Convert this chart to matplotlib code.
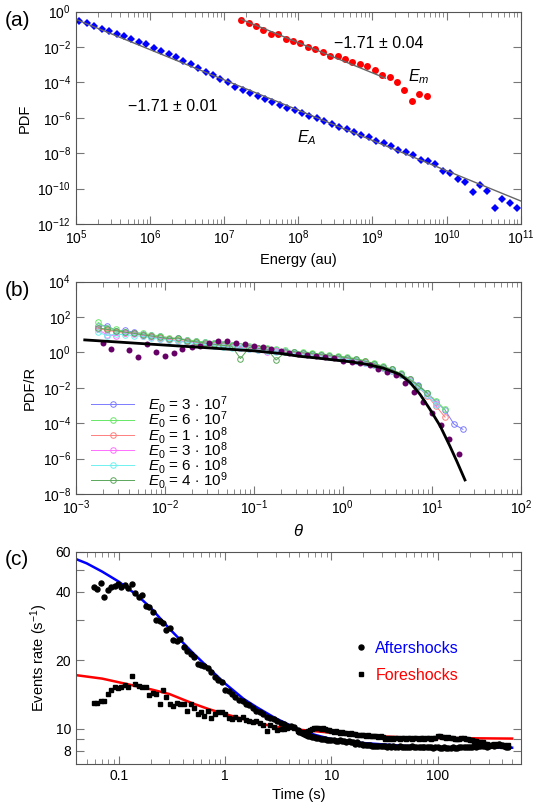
import numpy as np
import matplotlib
matplotlib.use('Agg')
import matplotlib.pyplot as plt
from matplotlib.ticker import FixedLocator, FixedFormatter, NullLocator, LogLocator
from matplotlib.lines import Line2D

# ---------------- panel (a): energy distributions ----------------
energy_A = [1.12e5, 1.41e5, 1.78e5, 2.24e5, 2.82e5, 3.55e5, 4.47e5, 5.62e5, 7.08e5, 8.91e5,
            1.12e6, 1.41e6, 1.78e6, 2.24e6, 2.82e6, 3.55e6, 4.47e6, 5.62e6, 7.08e6, 8.91e6,
            1.12e7, 1.41e7, 1.78e7, 2.24e7, 2.82e7, 3.55e7, 4.47e7, 5.62e7, 7.08e7, 8.91e7,
            1.12e8, 1.41e8, 1.78e8, 2.24e8, 2.82e8, 3.55e8, 4.47e8, 5.62e8, 7.08e8, 8.91e8,
            1.12e9, 1.41e9, 1.78e9, 2.24e9, 2.82e9, 3.55e9, 4.47e9, 5.62e9, 7.08e9, 8.91e9,
            1.12e10, 1.41e10, 1.78e10, 2.24e10, 2.82e10, 3.55e10, 4.47e10, 5.62e10, 7.08e10, 8.91e10]
pdf_A = [0.31, 0.219, 0.155, 0.110, 0.0774, 0.0547, 0.0404, 0.0286, 0.0202, 0.01426,
         9.24e-3, 6.26e-3, 3.88e-3, 2.63e-3, 1.63e-3, 1.06e-3, 6.57e-4, 4.07e-4, 2.53e-4, 1.57e-4,
         1.02e-4, 5.79e-5, 3.92e-5, 2.54e-5, 1.65e-5, 1.11e-5, 7.55e-6, 5.11e-6, 3.61e-6, 2.67e-6,
         1.80e-6, 1.27e-6, 9.41e-7, 6.95e-7, 4.70e-7, 2.92e-7, 2.25e-7, 1.66e-7, 1.08e-7, 7.94e-8,
         5.15e-8, 3.64e-8, 2.58e-8, 1.60e-8, 1.23e-8, 7.98e-9, 3.99e-9, 3.82e-9, 2.48e-9, 1.04e-9,
         8.02e-10, 3.37e-10, 2.48e-10, 6.77e-11, 1.61e-10, 7.06e-11, 7.74e-12, 2.61e-11, 1.48e-11, 7.74e-12]
energy_m = [1.70e7, 2.14e7, 2.69e7, 3.39e7, 4.27e7, 5.37e7, 6.76e7, 8.51e7, 1.07e8, 1.35e8,
            1.70e8, 2.14e8, 2.69e8, 3.39e8, 4.27e8, 5.37e8, 6.76e8, 8.51e8, 1.07e9, 1.35e9,
            1.70e9, 2.14e9, 2.69e9, 3.39e9, 4.27e9, 5.37e9]
pdf_m = [0.353, 0.229, 0.162, 0.0962, 0.0571, 0.0524, 0.0298, 0.0220, 0.0170, 0.0101,
         8.13e-3, 5.27e-3, 3.13e-3, 3.27e-3, 2.03e-3, 1.43e-3, 1.06e-3, 8.15e-4, 5.28e-4, 2.76e-4,
         1.95e-4, 1.06e-4, 3.60e-5, 9.37e-6, 2.14e-5, 1.72e-5]
fit_A_x = [1e5, 1e11]
fit_A_y = [0.37, 2.0e-11]
fit_m_x = [1.7e7, 1.5e9]
fit_m_y = [0.37, 1.74e-4]

# ---------------- panel (b): scaled distributions ----------------
theta = [1.78e-3, 2.24e-3, 2.82e-3, 3.55e-3, 4.47e-3, 5.62e-3, 7.08e-3, 8.91e-3, 1.12e-2, 1.41e-2,
         1.78e-2, 2.24e-2, 2.82e-2, 3.55e-2, 4.47e-2, 5.62e-2, 7.08e-2, 8.91e-2, 0.112, 0.141,
         0.178, 0.224, 0.282, 0.355, 0.447, 0.562, 0.708, 0.891, 1.12, 1.41,
         1.78, 2.24, 2.82, 3.55, 4.47, 5.62, 7.08, 8.91, 11.2, 14.1, 17.8, 22.4]
e0_labels = [r'$E_{\mathit{0}}$ = 3 $\cdot$ 10$^{7}$', r'$E_{\mathit{0}}$ = 6 $\cdot$ 10$^{7}$',
             r'$E_{\mathit{0}}$ = 1 $\cdot$ 10$^{8}$', r'$E_{\mathit{0}}$ = 3 $\cdot$ 10$^{8}$',
             r'$E_{\mathit{0}}$ = 6 $\cdot$ 10$^{8}$', r'$E_{\mathit{0}}$ = 4 $\cdot$ 10$^{9}$']
e0_colors = ['#7b7bff', '#66e866', '#ff7f7f', '#ff6eff', '#6ff0f0', '#5aa65a']
pdf_3e7 = [30, 33, 17, 18, 14, 11.5, 9.5, 8.0, 6.0, 6.5, 5.0, 4.4, 3.8, 3.3, 3.0, 2.6, 2.2, 2.0, 1.8, 1.6,
           1.4, 1.25, 1.1, 0.95, 0.85, 0.75, 0.66, 0.57, 0.48, 0.39, 0.30, 0.22, 0.16, 0.11, 0.062,
           0.032, 0.015, 5.0e-3, 1.6e-3, 5.5e-4, 8.7e-5, 4.5e-5]
pdf_6e7 = [50, 24, 20, 15, 13, 12, 10, 8.5, 6.8, 6.0, 5.2, 4.5, 3.7, 3.2, 2.9, 2.5, 2.3, 2.4, 1.9, 1.7,
           1.5, 1.3, 1.0, 1.1, 0.95, 0.8, 0.7, 0.62, 0.55, 0.45, 0.34, 0.24, 0.17, 0.11, 0.065,
           0.031, 0.013, 5.0e-3, 1.8e-3, 6.0e-4]
pdf_1e8 = [22, 18, 15, 13, 12, 9.5, 8.0, 6.5, 5.6, 4.8, 4.2, 3.7, 3.1, 2.8, 2.4, 2.1, 1.9, 1.7, 1.5, 1.35,
           1.2, 1.05, 0.95, 0.85, 0.75, 0.66, 0.58, 0.5, 0.43, 0.35, 0.27, 0.2, 0.14, 0.093, 0.05,
           0.024, 0.011, 3.5e-3, 9.0e-4, 2.2e-4]
pdf_3e8 = [20, 9.8, 8.9, 12, 11, 9.0, 7.5, 6.0, 5.2, 4.5, 3.9, 3.4, 2.9, 2.6, 2.3, 2.0, 1.8, 1.6, 1.45, 1.0,
           1.15, 1.05, 0.92, 0.8, 0.72, 0.63, 0.56, 0.49, 0.42, 0.34, 0.26, 0.19, 0.14, 0.09, 0.05,
           0.026, 0.011, 4.0e-3, 1.2e-3]
pdf_6e8 = [14, 9.0, 11, 10, 9.0, 8.0, 6.5, 5.5, 4.8, 4.2, 3.6, 3.2, 2.8, 2.4, 2.1, 1.9, 1.7, 1.5, 1.35, 1.2,
           1.1, 1.0, 0.9, 0.8, 0.71, 0.63, 0.55, 0.48, 0.41, 0.33, 0.26, 0.19, 0.13, 0.088, 0.05,
           0.025, 0.011, 3.8e-3, 1.1e-3]
pdf_4e9 = [25, 20, 17, 14, 12, 10, 8.5, 7.0, 6.0, 6.5, 4.5, 4.0, 3.4, 2.9, 2.5, 2.3, 0.45, 1.9, 1.7, 1.5,
           0.37, 1.0, 1.1, 0.95, 0.85, 0.75, 0.65, 0.58, 0.5, 0.42, 0.32, 0.23, 0.16, 0.11, 0.06,
           0.03, 0.013, 5.0e-3]
theta_p = [2.0e-3, 2.5e-3, 3.98e-3, 5.01e-3, 6.31e-3, 7.94e-3, 0.01, 0.0126, 0.0158, 0.02,
           0.0251, 0.0316, 0.0398, 0.0501, 0.0631, 0.0794, 0.1, 0.126, 0.158, 0.2,
           0.251, 0.316, 0.398, 0.501, 0.631, 0.794, 1.0, 1.26, 1.58, 2.0,
           2.51, 3.16, 3.98, 5.01, 6.31, 7.94, 10, 12.6, 15.8, 20.0]
pdf_p = [3.28, 1.57, 1.38, 0.53, 3.0, 1.02, 0.63, 0.89, 1.50, 1.95,
         2.42, 3.58, 4.64, 4.26, 3.58, 2.88, 2.32, 1.95, 1.50, 1.21,
         0.975, 0.82, 0.72, 0.63, 0.58, 0.47, 0.344, 0.302, 0.243, 0.196,
         0.111, 0.082, 0.053, 0.018, 5.6e-3, 1.66e-3, 4.0e-4, 7.9e-5, 1.23e-5, 1.76e-6]
fit_theta = [1.26e-3, 3.16e-3, 0.01, 0.0316, 0.1, 0.2, 0.33, 0.5, 0.78, 1.2,
             1.85, 2.85, 4.4, 5.7, 7.4, 9.5, 12.4, 16.0, 19.1, 23.6]
fit_pdf = [5.1, 3.8, 2.6, 1.8, 1.23, 0.87, 0.60, 0.49, 0.38, 0.30,
           0.214, 0.13, 0.056, 0.020, 4.2e-3, 6.3e-4, 7.1e-5, 5.0e-6, 7.1e-7, 6.2e-8]

# ---------------- panel (c): event rates ----------------
time_s = [0.0583, 0.0629, 0.0678, 0.0730, 0.0787, 0.0848, 0.0914, 0.0985, 0.106, 0.114,
          0.123, 0.133, 0.143, 0.154, 0.166, 0.179, 0.193, 0.208, 0.224, 0.242,
          0.261, 0.281, 0.303, 0.326, 0.352, 0.379, 0.408, 0.440, 0.474, 0.511,
          0.551, 0.593, 0.640, 0.689, 0.743, 0.801, 0.863, 0.930, 1.00, 1.08,
          1.16, 1.25, 1.35, 1.46, 1.57, 1.69, 1.82, 1.97, 2.12, 2.28,
          2.46, 2.65, 2.86, 3.08, 3.32, 3.58, 3.85, 4.15, 4.48, 4.83,
          5.0, 5.25, 5.5, 5.75, 6.0, 6.3, 6.6, 6.9, 7.2, 7.5,
          7.9, 8.3, 8.7, 9.1, 9.5, 10, 10.5, 11, 11.5, 12,
          12.6, 13.2, 13.8, 14.5, 15.2, 16, 16.7, 17.5, 18.3, 19.2,
          20, 21, 22, 23, 24, 25, 26.5, 27.7, 29, 30.5,
          32, 33.5, 35, 36.5, 38, 40, 42, 44, 46, 48,
          50, 52.5, 55, 57.5, 60, 63, 66, 69, 72, 75,
          79, 83, 87, 91, 95, 100, 105, 110, 115, 120,
          126, 132, 138, 145, 152, 160, 167, 175, 183, 192,
          200, 210, 220, 230, 240, 250, 265, 277, 290, 305,
          320, 335, 350, 365, 380, 400, 420, 440, 460]
aftershocks = [42.1, 41.3, 43.5, 38.0, 40.8, 42.1, 42.4, 43.3, 42.1, 42.9,
               41.6, 43.1, 39.3, 38.0, 38.5, 34.7, 34.4, 32.5, 30.0, 29.8,
               29.0, 27.1, 27.6, 24.5, 24.2, 24.7, 22.9, 22.0, 21.2, 20.6,
               19.3, 19.0, 18.9, 18.4, 17.8, 16.9, 16.3, 16.1, 14.8, 14.7,
               14.2, 13.8, 13.4, 13.2, 12.9, 12.7, 12.3, 12.0, 11.8, 11.6,
               11.3, 11.1, 11.0, 10.8, 10.6, 10.5, 10.3, 10.3, 10.2, 9.9,
               9.7, 9.6, 9.5, 9.4, 9.3, 9.3, 9.2, 9.2, 9.1, 9.1,
               9.0, 9.0, 9.0, 8.9, 8.9, 8.9, 8.9, 8.8, 8.8, 8.9,
               8.8, 8.8, 8.7, 8.8, 8.7, 8.7, 8.6, 8.7, 8.6, 8.6,
               8.5, 8.5, 8.5, 8.5, 8.4, 8.4, 8.4, 8.4, 8.4, 8.4,
               8.4, 8.3, 8.4, 8.3, 8.4, 8.3, 8.3, 8.4, 8.3, 8.3,
               8.3, 8.3, 8.3, 8.4, 8.3, 8.3, 8.3, 8.3, 8.3, 8.3,
               8.3, 8.3, 8.3, 8.2, 8.3, 8.3, 8.2, 8.2, 8.3, 8.2,
               8.2, 8.2, 8.3, 8.2, 8.2, 8.3, 8.3, 8.3, 8.3, 8.3,
               8.3, 8.3, 8.4, 8.3, 8.4, 8.4, 8.4, 8.4, 8.3, 8.4,
               8.5, 8.4, 8.5, 8.5, 8.6, 8.5, 8.4, 8.3, 8.3]
foreshocks = [13.0, 13.0, 13.2, 13.3, 14.2, 14.8, 15.3, 15.1, 15.3, 15.6,
              15.3, 17.1, 15.7, 15.4, 15.3, 15.3, 14.0, 14.4, 14.2, 12.8,
              14.8, 13.8, 12.8, 12.6, 13.0, 12.8, 12.9, 12.0, 12.8, 12.3,
              11.6, 11.8, 11.4, 12.0, 11.2, 11.6, 11.8, 11.9, 11.6, 11.2,
              11.0, 11.3, 11.0, 11.3, 10.9, 10.8, 10.7, 10.8, 10.6, 10.4,
              9.8, 10.4, 10.2, 9.9, 10.0, 10.0, 10.1, 10.2, 10.1, 9.8,
              9.8, 9.7, 9.6, 9.7, 9.8, 9.9, 10.0, 10.1, 10.1, 10.1,
              10.0, 10.1, 10.0, 9.9, 9.9, 9.8, 9.7, 9.8, 9.7, 9.6,
              9.7, 9.6, 9.6, 9.5, 9.6, 9.5, 9.5, 9.4, 9.4, 9.4,
              9.4, 9.3, 9.4, 9.3, 9.3, 9.3, 9.3, 9.2, 9.3, 9.2,
              9.0, 9.1, 9.0, 9.1, 9.0, 9.1, 9.1, 9.0, 9.1, 9.1,
              9.0, 9.1, 9.1, 9.0, 9.1, 9.1, 9.0, 9.1, 9.1, 9.0,
              9.1, 9.1, 9.0, 9.1, 9.1, 9.3, 9.3, 9.2, 9.2, 9.1,
              9.2, 9.1, 9.1, 9.0, 9.0, 9.0, 9.1, 9.1, 9.0, 9.0,
              8.9, 8.9, 8.8, 8.8, 8.7, 8.7, 8.7, 8.6, 8.6, 8.5,
              8.5, 8.6, 8.5, 8.6, 8.5, 8.4, 8.5, 8.4, 8.5]
fit_after_t = [0.0395, 0.05, 0.07, 0.1, 0.15, 0.2, 0.3, 0.5, 0.7, 1, 1.5, 2, 3, 5, 7, 10, 20, 50, 100, 200, 500]
fit_after = [55.7, 53.3, 49.0, 44.3, 38.5, 34.0, 27.5, 21.5, 18.5, 15.8, 13.5, 12.4, 11.1, 9.9, 9.4, 9.0,
             8.65, 8.4, 8.3, 8.28, 8.25]
fit_fore_t = [0.0395, 0.07, 0.1, 0.2, 0.3, 0.5, 0.7, 1, 2, 3, 5, 10, 20, 30, 50, 100, 200, 500]
fit_fore = [17.2, 16.6, 16.0, 14.9, 14.2, 12.9, 12.2, 11.6, 10.6, 10.2, 9.9, 9.6, 9.35, 9.25, 9.15, 9.1,
            9.08, 9.05]

plt.rcParams['font.family'] = ['Liberation Sans', 'DejaVu Sans']
plt.rcParams['mathtext.fontset'] = 'custom'
plt.rcParams['mathtext.rm'] = 'Liberation Sans'
plt.rcParams['mathtext.it'] = 'Liberation Sans:italic'
plt.rcParams['mathtext.bf'] = 'Liberation Sans:bold'


def style(ax):
    for s in ax.spines.values():
        s.set_color('#555555')
        s.set_linewidth(0.8)
    ax.tick_params(which='both', direction='in', top=True, right=True, color='#777777', labelsize=10)
    ax.tick_params(which='major', length=6, width=0.8)
    ax.tick_params(which='minor', length=3.5, width=0.6)


fig = plt.figure(figsize=(5.4, 8.11), dpi=100)
L, W, H = 0.1404, 0.824, 0.2618

# (a)
ax1 = fig.add_axes([L, 0.7238, W, H])
ax1.loglog(energy_A, pdf_A, 'D', color='#0000ff', ms=4.3, mew=0, zorder=2)
ax1.loglog(energy_m, pdf_m, 'o', color='#ff0000', ms=5.0, mew=0, zorder=2)
ax1.loglog(fit_A_x, fit_A_y, color='#666666', lw=1, zorder=3)
ax1.loglog(fit_m_x, fit_m_y, color='#666666', lw=1, zorder=3)
ax1.set_xlim(1e5, 1e11)
ax1.set_ylim(1e-12, 1)
ax1.yaxis.set_major_locator(FixedLocator(10.0 ** np.arange(-12, 1, 2)))
ax1.yaxis.set_minor_locator(NullLocator())
ax1.xaxis.set_minor_locator(LogLocator(base=10, subs=np.arange(2, 10), numticks=50))
ax1.text(10 ** 9.08, 10 ** -1.79, '\u22121.71 \u00b1 0.04', ha='center', va='center', fontsize=11.5)
ax1.text(10 ** 9.62, 10 ** -3.7, r'$E_m$', ha='center', va='center', fontsize=11.5)
ax1.text(10 ** 6.31, 10 ** -5.37, '\u22121.71 \u00b1 0.01', ha='center', va='center', fontsize=11.5)
ax1.text(10 ** 8.11, 10 ** -7.1, r'$E_A$', ha='center', va='center', fontsize=11.5)
ax1.set_ylabel('PDF', fontsize=10.5)
ax1.set_xlabel('Energy (au)', fontsize=10.5)
style(ax1)

# (b)
ax2 = fig.add_axes([L, 0.3909, W, H])
series = [pdf_3e7, pdf_6e7, pdf_1e8, pdf_3e8, pdf_6e8, pdf_4e9]
for vals, col, lab in zip(series, e0_colors, e0_labels):
    ax2.loglog(theta[:len(vals)], vals, '-o', color=col, lw=0.7, ms=4, mfc='none', mew=0.7, label=lab)
ax2.loglog(theta_p, pdf_p, 'o', color='#660066', ms=4.3, mew=0, zorder=3)
ax2.loglog(fit_theta, fit_pdf, color='black', lw=2, zorder=4)
ax2.set_xlim(1e-3, 1e2)
ax2.set_ylim(1e-8, 1e4)
ax2.yaxis.set_major_locator(FixedLocator(10.0 ** np.arange(-8, 5, 2)))
ax2.yaxis.set_minor_locator(NullLocator())
ax2.xaxis.set_minor_locator(LogLocator(base=10, subs=np.arange(2, 10), numticks=50))
ax2.set_ylabel('PDF/R', fontsize=10.5)
ax2.set_xlabel(r'$\theta$', fontsize=12)
ax2.legend(loc='upper left', bbox_to_anchor=(0.035, 0.47), frameon=False, fontsize=11,
           handlelength=2.8, labelspacing=-0.38, handletextpad=0.9, borderpad=0, borderaxespad=0)
style(ax2)

# (c)
ax3 = fig.add_axes([L, 0.058, W, H])
ax3.plot(fit_after_t, fit_after, color='#0000ff', lw=1.8, zorder=1)
ax3.plot(fit_fore_t, fit_fore, color='#ff0000', lw=1.8, zorder=1)
ax3.plot(time_s, aftershocks, 'o', color='black', ms=3.6, zorder=2)
ax3.plot(time_s, foreshocks, 's', color='black', ms=3.4, zorder=2)
ax3.set_xscale('log')
ax3.set_yscale('log')
ax3.set_xlim(0.0395, 603)
ax3.set_ylim(7, 60)
ax3.xaxis.set_major_locator(FixedLocator([0.1, 1, 10, 100]))
ax3.xaxis.set_major_formatter(FixedFormatter(['0.1', '1', '10', '100']))
ax3.xaxis.set_minor_locator(LogLocator(base=10, subs=np.arange(2, 10), numticks=50))
ax3.yaxis.set_major_locator(FixedLocator([8, 9, 10, 20, 30, 40, 50, 60]))
ax3.yaxis.set_major_formatter(FixedFormatter(['8', '', '10', '20', '', '40', '', '60']))
ax3.yaxis.set_minor_locator(NullLocator())
ax3.set_xlabel('Time (s)', fontsize=10.5)
ax3.set_ylabel('Events rate (s$^{-1}$)', fontsize=10.5)
handles = [Line2D([], [], marker='o', ls='none', color='black', ms=3.6),
           Line2D([], [], marker='s', ls='none', color='black', ms=3.4)]
ax3.legend(handles, ['Aftershocks', 'Foreshocks'], labelcolor=['#0000ff', '#ff0000'],
           loc='upper left', bbox_to_anchor=(0.63, 0.58), frameon=False, fontsize=11.5,
           handlelength=0.6, handletextpad=0.6, labelspacing=0.75, borderpad=0, borderaxespad=0)
style(ax3)

fig.text(0.008, 0.975, '(a)', fontsize=15, va='center')
fig.text(0.008, 0.642, '(b)', fontsize=15, va='center')
fig.text(0.008, 0.31, '(c)', fontsize=15, va='center')

fig.savefig('out.png', dpi=100)
